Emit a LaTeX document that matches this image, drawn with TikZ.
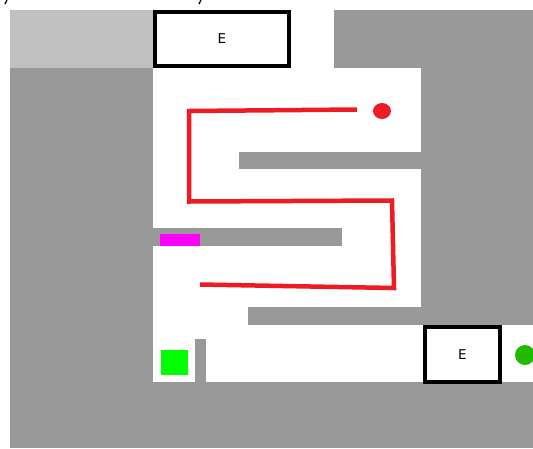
\documentclass[tikz,border=0pt]{standalone}
\usepackage{fontspec}
\setmainfont{DejaVu Sans}
\usetikzlibrary{shapes.geometric}
\definecolor{wallgray}{RGB}{153,153,153}
\definecolor{lightwall}{RGB}{192,192,192}
\definecolor{pathred}{RGB}{237,28,36}
\definecolor{goalgreen}{RGB}{0,255,0}
\definecolor{dotgreen}{RGB}{34,187,0}
\definecolor{keymag}{RGB}{255,0,255}
\tikzset{
  wall/.style={fill=wallgray,draw=none},
  free/.style={fill=white,draw=none},
  exitbox/.style={draw=black,line width=4pt,fill=white,font=\fontsize{13.5}{15}\selectfont,inner sep=0pt},
  route/.style={draw=pathred,line width=4.5pt,line join=miter},
}
\begin{document}
\begin{tikzpicture}[x=1pt,y=-1pt]
\useasboundingbox (0,0) rectangle (533,448);
\fill[white] (0,0) rectangle (533,448);
% background walls
\fill[wall] (10,10) rectangle (533,448);
\fill[lightwall] (10,10) rectangle (153,68);
% free space
\fill[free] (153,68) rectangle (421,382);
\fill[free] (291,10) rectangle (334,68);
\fill[free] (421,325) rectangle (533,382);
% inner walls
\fill[wall] (239,152) rectangle (421,169);
\fill[wall] (153,228) rectangle (342,246);
\fill[wall] (248,307) rectangle (421,325);
\fill[wall] (195,339) rectangle (206,382);
% items
\fill[keymag] (160,234) rectangle (200,246);
\node[fill=goalgreen,minimum width=27pt,minimum height=25pt,inner sep=0pt] (goal) at (174.5,362.5) {};
% exits
\node[exitbox,minimum width=134pt,minimum height=54pt] (exittop) at (222,39) {E};
\node[exitbox,minimum width=75pt,minimum height=55pt] (exitbot) at (462.5,354.5) {E};
\node[circle,fill=dotgreen,minimum size=20pt,inner sep=0pt] (agent) at (525,355) {};
% red route
\node[ellipse,fill=pathred,minimum width=18pt,minimum height=16pt,inner sep=0pt] (start) at (382,111) {};
\coordinate (r0) at (357,109.5);
\coordinate (r1) at (189,111);
\coordinate (r2) at (189,201.5);
\coordinate (r3) at (392,200.5);
\coordinate (r4) at (394,288);
\coordinate (r5) at (200,284.5);
\draw[route] (r0) -- (r1) -- (r2) -- (r3) -- (r4) -- (r5);
% stray marks at the top edge
\draw[black,line width=1.2pt] (5,4) -- (7,0);
\draw[black,line width=1.2pt] (199,4) -- (201,0);
\end{tikzpicture}
\end{document}
